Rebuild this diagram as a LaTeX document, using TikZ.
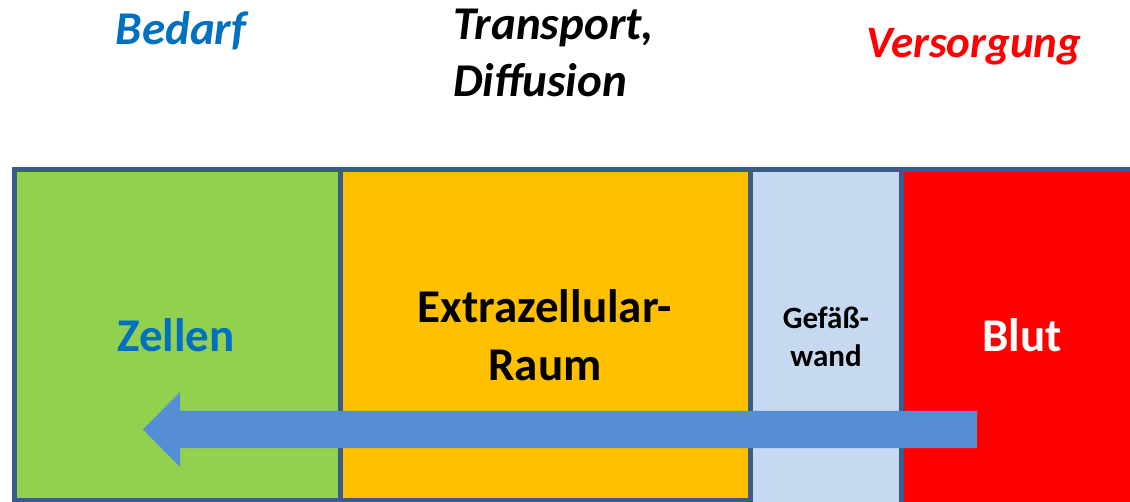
\documentclass[tikz,border=0pt]{standalone}
\usepackage{fontspec}
\usetikzlibrary{calc}
\setmainfont{Carlito}
\definecolor{bordercol}{HTML}{385D8A}
\definecolor{cellgreen}{HTML}{92D050}
\definecolor{extraorange}{HTML}{FFC000}
\definecolor{wallblue}{HTML}{C6D9F1}
\definecolor{bloodred}{HTML}{FF0000}
\definecolor{arrowblue}{HTML}{558ED5}
\definecolor{textblue}{HTML}{0070C0}
\begin{document}
\begin{tikzpicture}[x=1pt,y=-1pt,
  region/.style={draw=bordercol,line width=5pt,rectangle,inner sep=0pt,outer sep=0pt},
  bigtext/.style={font=\fontsize{47}{58}\selectfont\bfseries,align=center,inner sep=0pt},
  headtext/.style={font=\fontsize{47}{57}\selectfont\bfseries\itshape,inner sep=0pt},
  smalltext/.style={font=\fontsize{31}{38}\selectfont\bfseries,align=center,inner sep=0pt}
]
\useasboundingbox (0,0) rectangle (1130,502);
\clip (0,0) rectangle (1130,502);
% regions
\node[region,fill=cellgreen,minimum width=325.5pt,minimum height=331pt] (zellen) at (177.25,335) {};
\node[region,fill=extraorange,minimum width=410.5pt,minimum height=331pt] (extra) at (545.25,335) {};
\node[region,fill=wallblue,minimum width=151pt,minimum height=360pt] (wand) at (826,349.5) {};
\node[region,fill=bloodred,minimum width=250pt,minimum height=360pt] (blut) at (1026.5,349.5) {};
% texts in regions
\node[bigtext,text=textblue,anchor=base] (tz) at (176,352) {Zellen};
\node[bigtext,anchor=base] (te1) at (545,323) {Extrazellular-};
\node[bigtext,anchor=base] (te2) at (545,381) {Raum};
\node[smalltext,anchor=base] (tw1) at (826,329) {Gefäß-};
\node[smalltext,anchor=base] (tw2) at (826,367) {wand};
\node[bigtext,text=white,anchor=base] (tb) at (1022,352) {Blut};
% heading texts
\node[headtext,text=textblue,anchor=base] (bedarf) at (181,45) {Bedarf};
\node[headtext,anchor=base west] (trans1) at (453,40) {Transport,};
\node[headtext,anchor=base west] (trans2) at (453,97) {Diffusion};
\node[headtext,text=bloodred,anchor=base,font=\fontsize{45}{54}\selectfont\bfseries\itshape] (vers) at (974,58) {Versorgung};
% arrow
\coordinate (astart) at (977,429.5);
\coordinate (atip) at (143,429.5);
\fill[arrowblue] ($(astart)+(0,-18.5)$) -- (180,411) -- (180,392) -- (atip) -- (180,467) -- (180,448) -- ($(astart)+(0,18.5)$) -- cycle;
\end{tikzpicture}
\end{document}
